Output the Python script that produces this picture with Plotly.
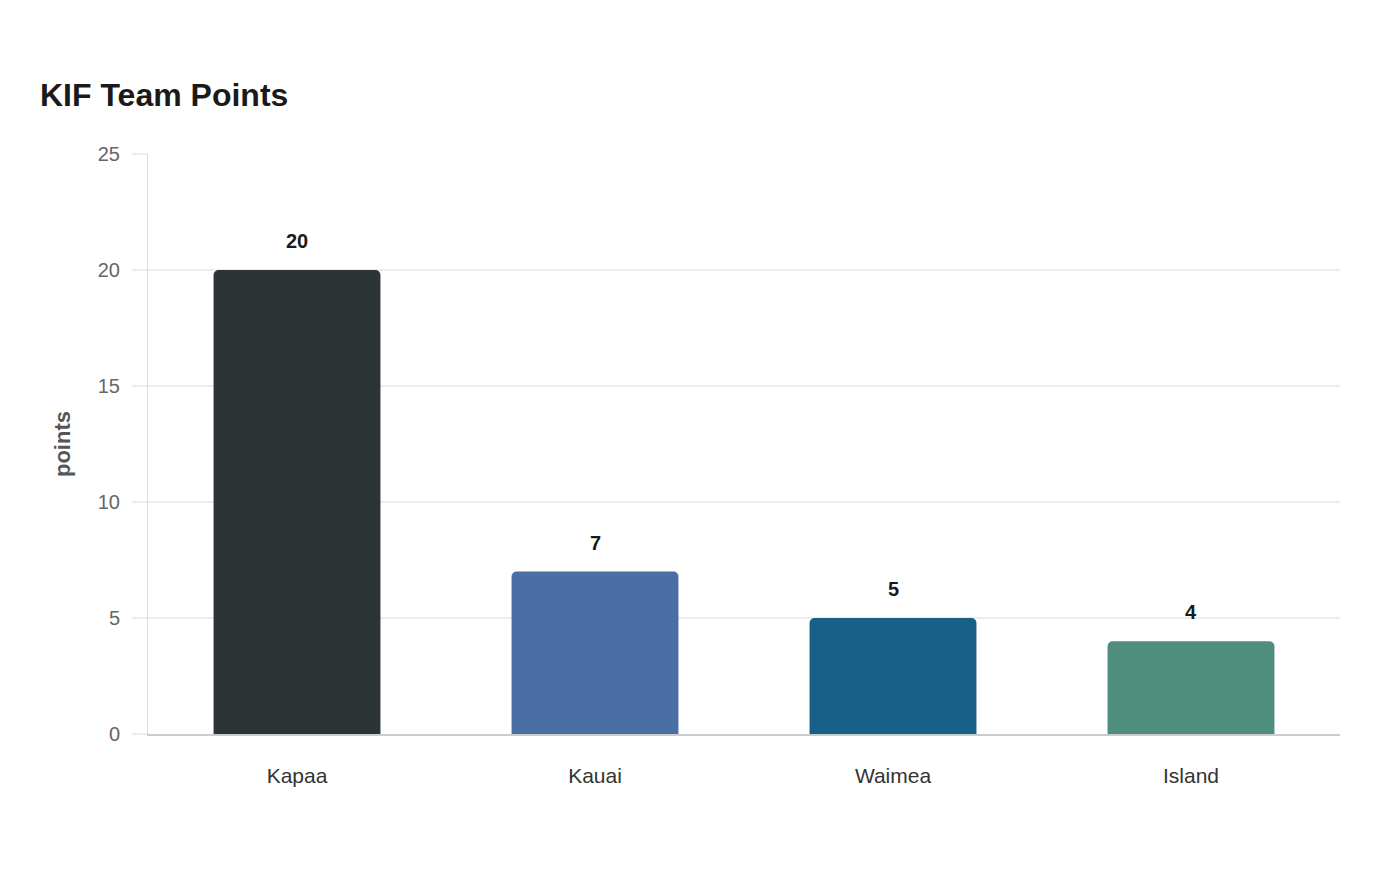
import plotly.graph_objects as go

teams = ["Kapaa", "Kauai", "Waimea", "Island"]
points = [20, 7, 5, 4]
bar_colors = ["#2d3436", "#4a6fa5", "#176087", "#4f8d7c"]
y_ticks = [0, 5, 10, 15, 20, 25]

FONT = "Liberation Sans, Arial, sans-serif"

fig = go.Figure()
fig.add_trace(go.Bar(
    x=teams, y=points,
    marker=dict(color=bar_colors, line=dict(width=0)),
    hoverinfo="x+y",
))

for t, p in zip(teams, points):
    fig.add_annotation(
        x=t, y=p, text=f"<b>{p}</b>", showarrow=False,
        yanchor="middle", yshift=29,
        font=dict(family=FONT, size=20, color="#1a1a1a"),
    )

fig.update_layout(
    width=1400, height=880,
    margin=dict(l=148, r=60, t=154, b=146),
    paper_bgcolor="white", plot_bgcolor="white",
    bargap=0.44,
    barcornerradius=5,
    showlegend=False,
    title=dict(
        text="<b>KIF Team Points</b>",
        x=40/1400, xref="container", xanchor="left",
        y=1-95/880, yref="container", yanchor="middle",
        font=dict(family=FONT, size=32, color="#1a1a1a"),
    ),
    font=dict(family=FONT),
)

fig.update_yaxes(
    range=[0, 25], tickvals=y_ticks,
    showgrid=True, gridcolor="#ececec", gridwidth=2,
    zeroline=False,
    showline=True, linecolor="#dddddd", linewidth=1,
    ticks="outside", ticklen=15, tickcolor="#ececec", tickwidth=2,
    ticklabelstandoff=8,
    tickfont=dict(family=FONT, size=20, color="#666666"),
    title=dict(text="<b>points</b>", standoff=21,
               font=dict(family=FONT, size=22, color="#555555")),
)
fig.update_xaxes(
    showgrid=False, zeroline=False,
    showline=True, linecolor="#cccccc", linewidth=2,
    ticks="", ticklabelstandoff=22,
    tickfont=dict(family=FONT, size=21, color="#333333"),
)

fig.write_html("out.html")
